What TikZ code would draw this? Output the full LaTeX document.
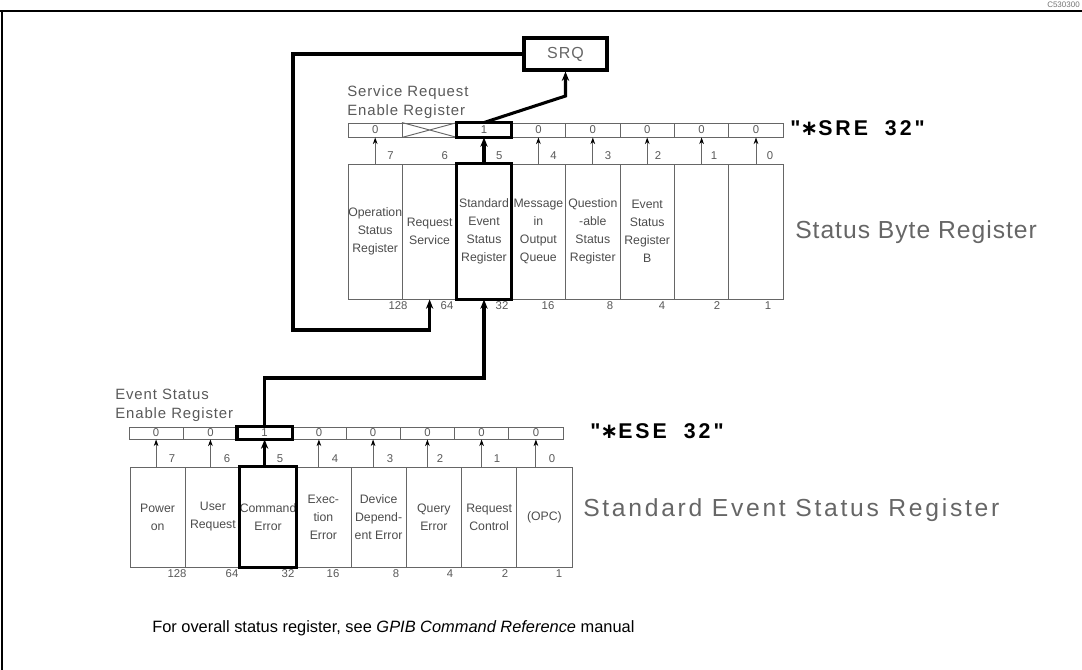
\documentclass[tikz,border=0pt]{standalone}
\usepackage{fontspec}
\setmainfont{Liberation Sans}
\newfontfamily\labfont[LetterSpace=6]{Liberation Sans}
\newfontfamily\bigfont[LetterSpace=11]{Liberation Sans}
\newfontfamily\sbfont[LetterSpace=4]{Liberation Sans}
\newfontfamily\cmdfont[LetterSpace=14]{Liberation Sans}
\newfontfamily\symfont{DejaVu Sans}
\usetikzlibrary{arrows.meta}
\tikzset{
  thinln/.style={draw=black!60, line width=0.7pt},
  thickln/.style={draw=black, line width=2.3pt},
  regcell/.style={thinln, inner sep=0pt, text=black!65, font=\fontsize{8.5}{9}\selectfont},
  srecell/.style={regcell, minimum width=40.8pt, minimum height=10.5pt},
  esecell/.style={regcell, minimum width=40.69pt, minimum height=9pt},
  colbox/.style={thinln, inner sep=0pt, align=center, text=black!70, font=\fontsize{9.2}{13.5}\selectfont},
  sbcol/.style={colbox, minimum width=40.8pt, minimum height=101.25pt},
  esecol/.style={colbox, minimum width=41.44pt, minimum height=75pt},
  bitlab/.style={inner sep=0pt, text=black!65, font=\fontsize{8.5}{9}\selectfont},
  bitarr/.style={thinln, -{Stealth[length=5pt,width=3.5pt,black]}},
  thickarr/.style={thickln, -{Stealth[length=7pt,width=5.5pt]}},
  title/.style={inner sep=0pt, anchor=west, text=black!60, font=\bigfont\fontsize{18.5}{22}\selectfont},
  reglab/.style={inner sep=0pt, anchor=west, align=left, text=black!65, font=\labfont\fontsize{11.2}{14.2}\selectfont},
  cmd/.style={inner sep=0pt, anchor=west, font=\cmdfont\bfseries\fontsize{16}{18}\selectfont},
}
\begin{document}
\begin{tikzpicture}[x=0.75pt,y=-0.75pt]
\useasboundingbox (0,0) rectangle (1082,670);
% frame
\draw[line width=2pt] (0,11) -- (1082,11);
\draw[line width=1.3pt] (2,11) -- (2,670);
\node[anchor=base east, inner sep=0pt, text=black!55, font=\fontsize{6}{7}\selectfont] (code) at (1080,7.5) {C530300};

% ---------------- Service Request Enable Register ----------------
\node[srecell] (s7) at (375.2,130) {0};
\node[srecell] (s6) at (429.6,130) {};
\node[srecell] (s5) at (484,130) {1};
\node[srecell] (s4) at (538.4,130) {0};
\node[srecell] (s3) at (592.8,130) {0};
\node[srecell] (s2) at (647.2,130) {0};
\node[srecell] (s1) at (701.6,130) {0};
\node[srecell] (s0) at (756,130) {0};
\draw[thinln] (s6.north west) -- (s6.south east) (s6.south west) -- (s6.north east);

% ---------------- Status Byte Register ----------------
\node[sbcol] (c7) at (375.2,231.5) {Operation\\Status\\Register};
\node[sbcol] (c6) at (429.6,231.5) {Request\\Service};
\node[sbcol] (c5) at (484,231.5) {Standard\\Event\\Status\\Register};
\node[sbcol] (c4) at (538.4,231.5) {Message\\in\\Output\\Queue};
\node[sbcol] (c3) at (592.8,231.5) {Question\\-able\\Status\\Register};
\node[sbcol] (c2) at (647.2,231.5) {Event\\Status\\Register\\B};
\node[sbcol] (c1) at (701.6,231.5) {};
\node[sbcol] (c0) at (756,231.5) {};

\draw[bitarr] (c7.north) -- (s7.south);
\draw[bitarr] (c4.north) -- (s4.south);
\draw[bitarr] (c3.north) -- (s3.south);
\draw[bitarr] (c2.north) -- (s2.south);
\draw[bitarr] (c1.north) -- (s1.south);
\draw[bitarr] (c0.north) -- (s0.south);
\draw[thickarr] (c5.north) -- (s5.south);

\node[bitlab] (b7) at (390.4,156) {7};
\node[bitlab] (b6) at (444.8,156) {6};
\node[bitlab] (b5) at (499.2,156) {5};
\node[bitlab] (b4) at (553.6,156) {4};
\node[bitlab] (b3) at (608,156) {3};
\node[bitlab] (b2) at (658,156) {2};
\node[bitlab] (b1) at (714,156) {1};
\node[bitlab] (b0) at (770,156) {0};

\node[bitlab] (w7) at (398,306) {128};
\node[bitlab] (w6) at (447,306) {64};
\node[bitlab] (w5) at (502,306) {32};
\node[bitlab] (w4) at (548,306) {16};
\node[bitlab] (w3) at (610,306) {8};
\node[bitlab] (w2) at (662,306) {4};
\node[bitlab] (w1) at (717,306) {2};
\node[bitlab] (w0) at (768,306) {1};

\draw[thickln] (s5.north west) rectangle (s5.south east);
\draw[thickln] (c5.north west) rectangle (c5.south east);

\node[reglab] (srelab) at (347,102) {Service Request\\Enable Register};
\node[cmd] (srecmd) at (790,128) {"{\symfont ∗}SRE\hspace{6pt} 32"};
\node[title, font=\sbfont\fontsize{18.5}{22}\selectfont] (sbrlab) at (795,232) {Status Byte Register};

% ---------------- SRQ ----------------
\node[draw, line width=2.3pt, minimum width=62.25pt, minimum height=24pt, inner sep=0pt,
      text=black!60, font=\labfont\fontsize{12}{14}\selectfont] (srq) at (565.5,54) {SRQ};

% ---------------- Event Status Enable Register ----------------
\node[esecell] (e7) at (156.1,433) {0};
\node[esecell] (e6) at (210.4,433) {0};
\node[esecell] (e5) at (264.6,433) {1};
\node[esecell] (e4) at (318.9,433) {0};
\node[esecell] (e3) at (373.1,433) {0};
\node[esecell] (e2) at (427.4,433) {0};
\node[esecell] (e1) at (481.6,433) {0};
\node[esecell] (e0) at (535.9,433) {0};

% ---------------- Standard Event Status Register ----------------
\node[esecol] (d7) at (157.6,517) {Power\\on};
\node[esecol] (d6) at (212.9,517) {User\\Request};
\node[esecol] (d5) at (268.1,517) {Command\\Error};
\node[esecol] (d4) at (323.4,517) {Exec-\\tion\\Error};
\node[esecol] (d3) at (378.6,517) {Device\\Depend-\\ent Error};
\node[esecol] (d2) at (433.9,517) {Query\\Error};
\node[esecol] (d1) at (489.1,517) {Request\\Control};
\node[esecol] (d0) at (544.4,517) {(OPC)};

\draw[bitarr] (e7.south |- d7.north) -- (e7.south);
\draw[bitarr] (e6.south |- d6.north) -- (e6.south);
\draw[thickarr] (e5.south |- d5.north) -- (e5.south);
\draw[bitarr] (e4.south |- d4.north) -- (e4.south);
\draw[bitarr] (e3.south |- d3.north) -- (e3.south);
\draw[bitarr] (e2.south |- d2.north) -- (e2.south);
\draw[bitarr] (e1.south |- d1.north) -- (e1.south);
\draw[bitarr] (e0.south |- d0.north) -- (e0.south);

\node[bitlab] (f7) at (172,459) {7};
\node[bitlab] (f6) at (227,459) {6};
\node[bitlab] (f5) at (280,459) {5};
\node[bitlab] (f4) at (335,459) {4};
\node[bitlab] (f3) at (390,459) {3};
\node[bitlab] (f2) at (440,459) {2};
\node[bitlab] (f1) at (497,459) {1};
\node[bitlab] (f0) at (552,459) {0};

\node[bitlab] (g7) at (177,574) {128};
\node[bitlab] (g6) at (232,574) {64};
\node[bitlab] (g5) at (288,574) {32};
\node[bitlab] (g4) at (333,574) {16};
\node[bitlab] (g3) at (396,574) {8};
\node[bitlab] (g2) at (450,574) {4};
\node[bitlab] (g1) at (505,574) {2};
\node[bitlab] (g0) at (559,574) {1};

\draw[thickln] (e5.north west) rectangle (e5.south east);
\draw[thickln] (d5.north west) rectangle (d5.south east);

\node[reglab] (eselab) at (115,405) {Event Status\\Enable Register};
\node[cmd] (esecmd) at (590,431) {"{\symfont ∗}ESE\hspace{6pt} 32"};
\node[title] (seslab) at (583,510) {Standard Event Status Register};

% ---------------- connectors ----------------
\coordinate (bend) at (565.5,96);
\draw[thickarr] (s5.north) -- (bend) -- (srq.south);
\coordinate (loop) at (293,330);
\draw[thickarr] (srq.west) -| (loop) -| (c6.south);
\coordinate (join) at (484,378);
\draw[thickarr] (e5.north) |- (join) -- (c5.south);

% ---------------- note ----------------
\node[anchor=west, inner sep=0pt, font=\fontsize{12.3}{14}\selectfont] (note) at (152,628)
  {For overall status register, see \textit{GPIB Command Reference} manual};
\end{tikzpicture}
\end{document}
